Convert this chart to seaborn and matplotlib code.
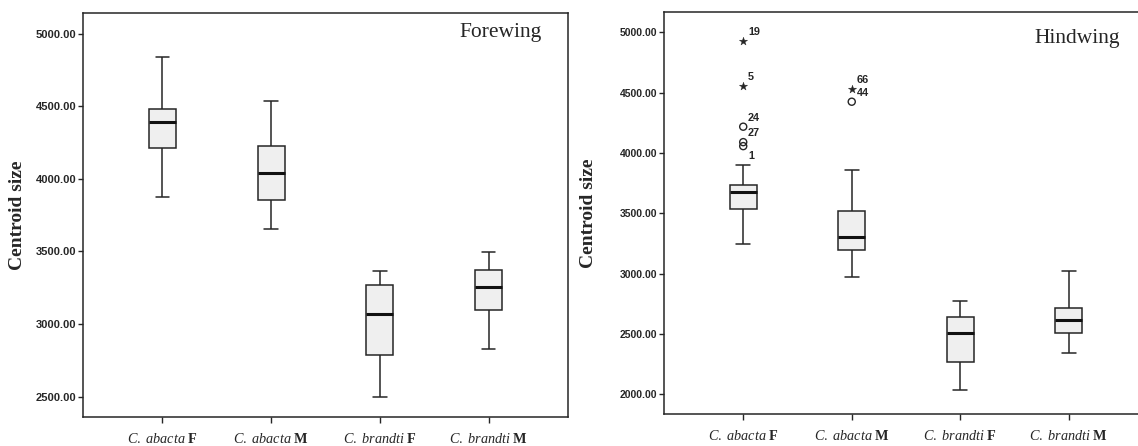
import numpy as np
import pandas as pd
import matplotlib
matplotlib.use("Agg")
import matplotlib.pyplot as plt
import seaborn as sns

groups = ["C. abacta F", "C. abacta M", "C. brandti F", "C. brandti M"]
tick_labels = [r"$\mathit{C.\ abacta}\ \mathbf{F}$", r"$\mathit{C.\ abacta}\ \mathbf{M}$",
               r"$\mathit{C.\ brandti}\ \mathbf{F}$", r"$\mathit{C.\ brandti}\ \mathbf{M}$"]

# forewing: whisker low, Q1, median, Q3, whisker high
fore_low = [3872, 3652, 2500, 2826]
fore_q1 = [4210, 3852, 2784, 3094]
fore_med = [4394, 4038, 3066, 3256]
fore_q3 = [4484, 4225, 3266, 3371]
fore_high = [4842, 4533, 3364, 3493]

# hindwing
hind_low = [3242, 2970, 2038, 2340]
hind_q1 = [3532, 3194, 2268, 2506]
hind_med = [3674, 3302, 2512, 2620]
hind_q3 = [3736, 3523, 2641, 2713]
hind_high = [3904, 3863, 2770, 3019]

# hindwing outliers (SPSS case numbers)
out_group = ["C. abacta F"] * 5 + ["C. abacta M"] * 2
out_value = [4930, 4555, 4218, 4090, 4057, 4528, 4425]
out_id = ["19", "5", "24", "27", "1", "66", "44"]
out_kind = ["star", "star", "circle", "circle", "circle", "star", "circle"]

sns.set_style("white")
plt.rcParams["mathtext.fontset"] = "custom"
plt.rcParams["mathtext.rm"] = "Liberation Serif"
plt.rcParams["mathtext.it"] = "Liberation Serif:italic"
plt.rcParams["mathtext.bf"] = "Liberation Serif:bold"
plt.rcParams["font.family"] = ["Liberation Sans", "DejaVu Sans"]

INK = "#262626"


def long_form(low, q1, med, q3, high):
    rows = []
    for g, *vals in zip(groups, low, q1, med, q3, high):
        for v in vals:
            rows.append((g, v))
    return pd.DataFrame(rows, columns=["group", "size"])


def draw_panel(ax, df, ylim, ticks, title, title_xy, tick_fs, label_x):
    sns.boxplot(data=df, x="group", y="size", order=groups, width=0.25,
                whis=(0, 100), color="#efefef", saturation=1, linecolor=INK,
                linewidth=1.1, showfliers=False,
                medianprops=dict(color="#111111", linewidth=2.2), ax=ax)
    ax.set_xlim(-0.73, 3.73)
    ax.set_ylim(*ylim)
    ax.set_yticks(ticks)
    ax.set_yticklabels([f"{t:.2f}" for t in ticks], fontweight="bold")
    ax.set_xticks(range(len(groups)))
    ax.set_xticklabels(tick_labels)
    ax.set_xlabel("")
    ax.set_ylabel("Centroid size", family="Liberation Serif", fontweight="bold",
                  fontsize=14, color=INK, va="center")
    ax.yaxis.set_label_coords(label_x, 0.5)
    for s in ax.spines.values():
        s.set_visible(True)
        s.set_color(INK)
        s.set_linewidth(1.1)
    ax.tick_params(axis="y", left=True, direction="out", length=3.5, width=1,
                   pad=1.5, labelsize=tick_fs, colors=INK)
    ax.tick_params(axis="x", bottom=True, direction="out", length=4, width=1,
                   pad=7, labelsize=10.3, colors=INK)
    ax.text(title_xy[0], title_xy[1], title, transform=ax.transAxes, ha="right",
            va="baseline", fontsize=15.5, family="Liberation Serif", color=INK)


fig = plt.figure(figsize=(11.38, 4.46), dpi=100)
W, H = 1138, 446
ax1 = fig.add_axes([83 / W, 1 - 416.7 / H, 485 / W, 403.4 / H])
ax2 = fig.add_axes([664 / W, 1 - 414 / H, 484 / W, 402.3 / H])

draw_panel(ax1, long_form(fore_low, fore_q1, fore_med, fore_q3, fore_high),
           (2362, 5140), [2500, 3000, 3500, 4000, 4500, 5000], "Forewing",
           (0.946, 0.941), 8.0, -0.135)
draw_panel(ax2, long_form(hind_low, hind_q1, hind_med, hind_q3, hind_high),
           (1837, 5171), [2000, 2500, 3000, 3500, 4000, 4500, 5000], "Hindwing",
           (0.942, 0.921), 7.5, -0.155)

# outliers on the hindwing panel
out = pd.DataFrame({"pos": [groups.index(g) for g in out_group],
                    "value": out_value, "kind": out_kind, "id": out_id})
stars = out[out["kind"] == "star"]
circles = out[out["kind"] == "circle"]
sns.scatterplot(x=stars["pos"], y=stars["value"], marker="*", s=38, color=INK,
                edgecolor=INK, linewidth=0.3, ax=ax2, zorder=5)
sns.scatterplot(x=circles["pos"], y=circles["value"], marker="o", s=26,
                color=INK, facecolor="none", edgecolor=INK, linewidth=1.0,
                ax=ax2, zorder=5)
label_dy = [6.5, 6.5, 6.5, 6.5, -7, 7, 6]
for (_, r), dy in zip(out.iterrows(), label_dy):
    ax2.annotate(r["id"], (r["pos"], r["value"]), xytext=(3.5, dy),
                 textcoords="offset points", ha="left", va="center",
                 fontsize=7.8, fontweight="bold", color=INK)
ax2.set_xlabel("")

fig.savefig("out.png", dpi=100)
